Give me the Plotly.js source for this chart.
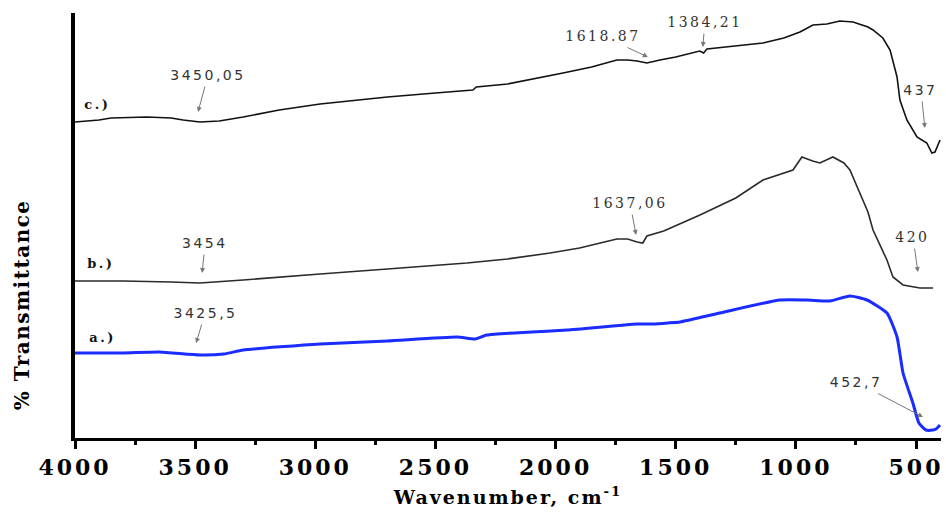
<!DOCTYPE html>
<html>
<head>
<meta charset="utf-8">
<script src="https://cdn.plot.ly/plotly-3.0.1.min.js"></script>
<style>
html,body{margin:0;padding:0;background:#fff;}
#chart{width:946px;height:512px;}
#chart .annotation-text{letter-spacing:2.5px;}
#chart .annotation[data-index="12"] .annotation-text{letter-spacing:1.5px;}
#chart .xtick text{letter-spacing:3px;}
#chart .xtitle{letter-spacing:2px;}
</style>
</head>
<body>
<div id="chart"></div>
<script>
// Wavenumber (cm-1) and relative % transmittance (arbitrary offset units)
const waveC = [4000,3900,3850,3700,3600,3550,3480,3400,3300,3150,2980,2700,2500,2369,2344,2330,2200,1969,1850,1745,1700,1661,1620,1566,1500,1400,1384,1370,1250,1137,1050,983,929,871,817,762,700,679,638,608,579,567,538,496,455,434,421,400];
const transC = [316,318,320,321,320,318,316,317,321,328,334,341,345,348,348,351,354,365,371,378,378,377,375,378,381,387,385,389,392,395,400,406,413,414,417,416,411,408,400,388,361,338,318,301,295,285,286,298];

const waveB = [4000,3800,3600,3480,3300,3064,2980,2700,2369,2200,2023,1900,1745,1700,1661,1637,1620,1550,1399,1250,1137,1012,975,930,900,846,800,775,733,700,679,621,596,554,484,429];
const transB = [157,157,156,155,158,162,164,169,175,179,185,190,199,199,196,195,202,207,223,240,258,268,281,277,275,281,275,268,245,226,208,178,161,153,150,150];

const waveA = [4000,3800,3650,3480,3380,3300,2980,2700,2410,2335,2286,1953,1661,1595,1532,1482,1316,1066,954,858,775,704,621,579,554,513,488,459,430,417,400];
const transA = [85,85,86,83,84,88,94,97,101,99,103,108,114,114,115,116,125,138,138,137,142,138,125,101,65,35,15,8,8,9,13];

const seriesLabels = ["a.)","b.)","c.)"];
const labelWave = [3886,3893,3905];
const labelTrans = [101,175,334];

// Peak annotations
const peakText = ["3450,05","1618.87","1384,21","437","3454","1637,06","420","3425,5","452,7"];
const peakWave = [3488,1616,1387,463,3471,1665,492,3496,471];
const peakTrans = [326,381,391,310,165,203,166,95,21];
const peakDx = [10,-45,2,-4,3,-6,-5,9,-67];
const peakDy = [-37,-21,-25,-38,-30,-32,-35,-30,-35];
const peakSerif = [false,true,true,false,false,true,true,false,false];

const traces = [
  {x: waveC, y: transC, mode: 'lines', line: {color: '#111', width: 1.6}, hoverinfo: 'skip'},
  {x: waveB, y: transB, mode: 'lines', line: {color: '#2a2a2a', width: 1.6}, hoverinfo: 'skip'},
  {x: waveA, y: transA, mode: 'lines', line: {color: '#1a2cff', width: 3, shape: 'spline', smoothing: 0.5}, hoverinfo: 'skip'}
];

const annotations = [];
for (let i = 0; i < seriesLabels.length; i++) {
  annotations.push({x: labelWave[i], y: labelTrans[i], xref: 'x', yref: 'y', text: seriesLabels[i], showarrow: false,
    font: {family: 'DejaVu Serif', size: 13, color: '#111', weight: 'bold'}});
}
for (let i = 0; i < peakText.length; i++) {
  annotations.push({x: peakWave[i], y: peakTrans[i], xref: 'x', yref: 'y', text: peakText[i], showarrow: true,
    ax: peakDx[i], ay: peakDy[i], arrowhead: 2, arrowsize: 1, arrowwidth: 1, arrowcolor: '#777', borderpad: 3,
    font: {family: peakSerif[i] ? 'DejaVu Serif' : 'DejaVu Sans', size: 14, color: '#333'}});
}
annotations.push({x: (22 - 75) / 866, y: (438 - 305) / 425, xref: 'paper', yref: 'paper', text: '% Transmittance',
  textangle: -90, showarrow: false, xanchor: 'center', yanchor: 'middle',
  font: {family: 'DejaVu Serif', size: 20, color: '#000', weight: 'bold'}});

const layout = {
  width: 946, height: 512,
  margin: {l: 75, r: 5, t: 13, b: 74},
  paper_bgcolor: '#fff', plot_bgcolor: '#fff',
  showlegend: false,
  xaxis: {
    range: [4000, 396], tick0: 0, dtick: 500, ticks: 'outside', ticklen: 8, tickwidth: 3, tickcolor: '#000',
    minor: {dtick: 250, ticks: 'outside', ticklen: 4, tickwidth: 3, tickcolor: '#000'},
    showline: true, linewidth: 3, linecolor: '#000', showgrid: false, zeroline: false,
    tickfont: {family: 'DejaVu Serif', size: 22, color: '#000', weight: 'bold'},
    title: {text: 'Wavenumber, cm<sup>-1</sup>', standoff: 12, font: {family: 'DejaVu Serif', size: 19, color: '#000', weight: 'bold'}}
  },
  yaxis: {
    range: [0, 425], showticklabels: false, ticks: '', showgrid: false, zeroline: false,
    showline: true, linewidth: 4, linecolor: '#000'
  },
  annotations: annotations
};

Plotly.newPlot('chart', traces, layout, {displayModeBar: false, staticPlot: true});
</script>
</body>
</html>
